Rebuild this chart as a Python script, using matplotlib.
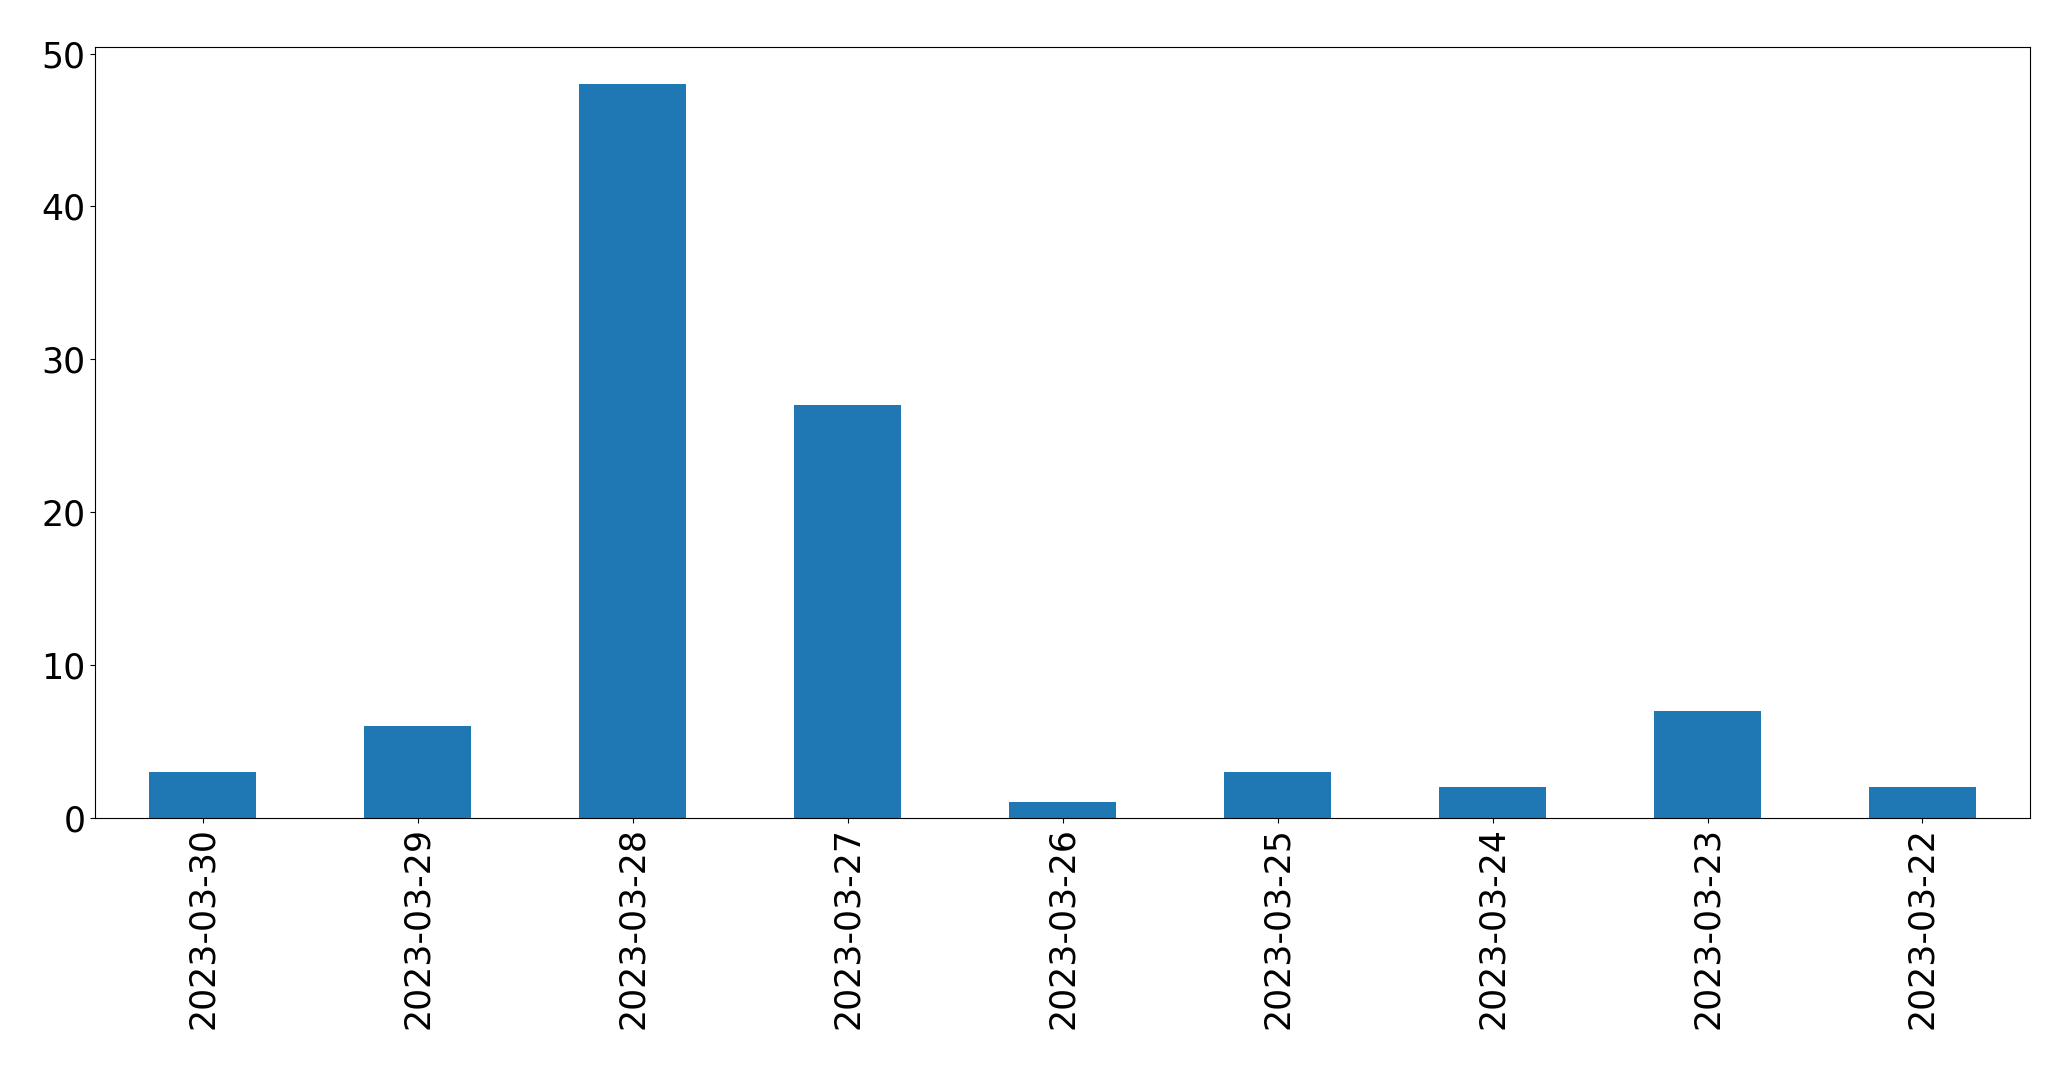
import matplotlib
matplotlib.use("Agg")
import matplotlib.pyplot as plt

dates = ["2023-03-30", "2023-03-29", "2023-03-28", "2023-03-27", "2023-03-26",
         "2023-03-25", "2023-03-24", "2023-03-23", "2023-03-22"]
counts = [3, 6, 48, 27, 1, 3, 2, 7, 2]

plt.rcParams["font.size"] = 25

fig = plt.figure(figsize=(20.71, 10.69), dpi=100)
ax = fig.add_axes([0.0459, 0.2352, 0.9343, 0.7204])

x = range(len(dates))
ax.bar(x, counts, width=0.5, color="#1f77b4")
ax.set_xticks(list(x))
ax.set_xticklabels(dates, rotation=90)
ax.set_xlim(-0.5, len(dates) - 0.5)
ax.set_yticks([0, 10, 20, 30, 40, 50])

fig.savefig("out.png", dpi=100)
